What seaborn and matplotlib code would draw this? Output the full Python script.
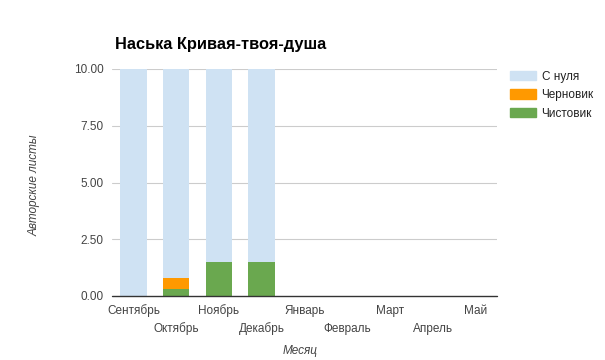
import numpy as np
import pandas as pd
import matplotlib
matplotlib.use('Agg')
import matplotlib.pyplot as plt
import matplotlib.patches as mpatches
import seaborn as sns

# data
months = ['Сентябрь', 'Октябрь', 'Ноябрь', 'Декабрь', 'Январь',
          'Февраль', 'Март', 'Апрель', 'Май']
from_scratch = [10.0, 9.2, 8.5, 8.5, 0, 0, 0, 0, 0]   # С нуля
draft = [0, 0.5, 0, 0, 0, 0, 0, 0, 0]                 # Черновик
clean = [0, 0.3, 1.5, 1.5, 0, 0, 0, 0, 0]             # Чистовик
series_names = ['С нуля', 'Черновик', 'Чистовик']
colors = ['#cfe2f3', '#ff9900', '#6aa84f']

sns.set_style('white')
plt.rcParams['font.family'] = ['Liberation Sans', 'DejaVu Sans']

df = pd.DataFrame({'month': months, 'clean': clean, 'draft': draft, 'scratch': from_scratch})
df['top_clean'] = df['clean']
df['top_draft'] = df['clean'] + df['draft']
df['top_scratch'] = df['top_draft'] + df['scratch']

fig = plt.figure(figsize=(6.05, 3.6), dpi=100)
ax = fig.add_axes([112 / 605, 1 - 296 / 360, 385 / 605, 227 / 360])

# stacked bars: draw cumulative tops, largest first
for col, c in zip(['top_scratch', 'top_draft', 'top_clean'], colors):
    sns.barplot(data=df, x='month', y=col, color=c, width=0.62, ax=ax,
                saturation=1, order=months, linewidth=0)

ax.set_ylim(0, 10)
ax.set_xlim(-0.5, 8.5)
yt = [0, 2.5, 5, 7.5, 10]
ax.set_yticks(yt)
ax.set_yticklabels(['%.2f' % v for v in yt], color='#444444', fontsize=8.5)
for v in yt[1:]:
    ax.axhline(v, color='#cccccc', lw=0.8, zorder=0.5)
ax.axhline(0, color='#333333', lw=1, zorder=3, clip_on=False)
for s in ax.spines.values():
    s.set_visible(False)
ax.tick_params(axis='both', length=0, pad=6)

# staggered x labels
ax.set_xticks(range(len(months)))
ax.set_xticklabels([])
for i, m in enumerate(months):
    ax.annotate(m, xy=(i, 0), xycoords=('data', 'axes fraction'),
                xytext=(0, -13 if i % 2 == 0 else -26), textcoords='offset points',
                ha='center', va='baseline', fontsize=8.5, color='#444444',
                annotation_clip=False)

ax.set_xlabel('')
ax.set_ylabel('')
fig.text(300 / 605, 1 - 351 / 360, 'Месяц', ha='center', va='center',
         fontsize=8.5, style='italic', color='#444444')
fig.text(35 / 605, 1 - 185 / 360, 'Авторские листы', ha='center', va='center',
         fontsize=8.5, style='italic', color='#444444', rotation=90)
fig.text(115 / 605, 1 - 44 / 360, 'Наська Кривая-твоя-душа', ha='left', va='center',
         fontsize=11.8, fontweight='bold', color='#000000')

handles = [mpatches.Patch(color=c, label=n) for c, n in zip(colors, series_names)]
fig.legend(handles=handles, loc='upper left', bbox_to_anchor=(499 / 605, 1 - 60 / 360),
           frameon=False, fontsize=8.5, handlelength=2.2, handleheight=0.9,
           labelspacing=0.55, handletextpad=0.5, labelcolor='#222222')

fig.savefig('out.png', dpi=100)
